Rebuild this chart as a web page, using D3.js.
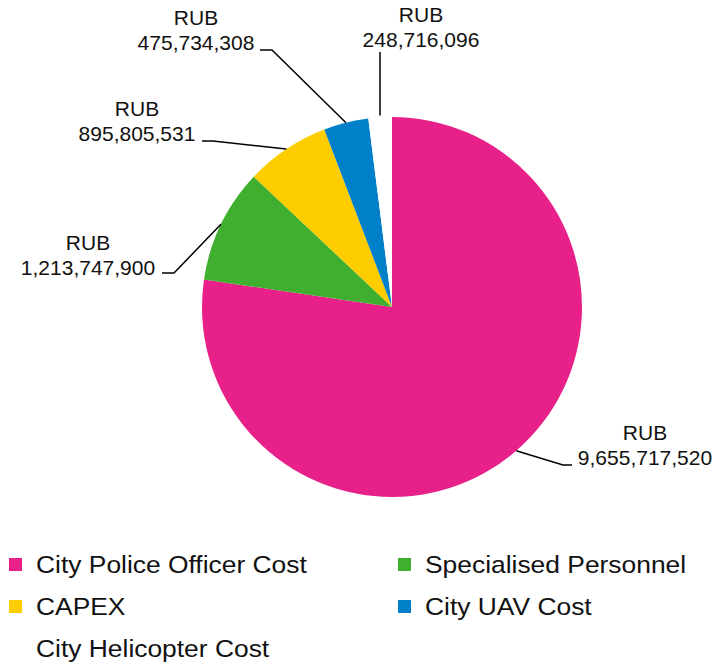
<!DOCTYPE html>
<html>
<head>
<meta charset="utf-8">
<script src="https://cdn.jsdelivr.net/npm/d3@7"></script>
<style>
  body { margin: 0; background: #fff; }
  svg { font-family: "Liberation Sans", Arial, sans-serif; }
</style>
</head>
<body>
<div class="chart"></div>
<script>
// data
var categories = ["City Police Officer Cost", "Specialised Personnel", "CAPEX", "City UAV Cost", "City Helicopter Cost"];
var values = [9655717520, 1213747900, 895805531, 475734308, 248716096];
var colors = ["#e8208a", "#40ae2f", "#fecd00", "#0080c8", "#ffffff"];

var width = 723, height = 662;
var cx = 392, cy = 307, radius = 190;

// where each label sits: elbow of leader line, end of the short horizontal bit, text centre, number baseline
var labelLayout = [
  { elbow: [563, 465], end: [572, 465], tx: 645, ty: 465 },
  { elbow: [174, 273], end: [162, 273], tx: 88,  ty: 275 },
  { elbow: [213, 141], end: [202, 141], tx: 137, ty: 141 },
  { elbow: [272, 50],  end: [260, 50],  tx: 196, ty: 50 },
  { elbow: [380, 52],  end: [380, 52],  tx: 421, ty: 47 }
];

var svg = d3.select(".chart")
  .append("svg")
    .attr("width", width)
    .attr("height", height);

var pie = d3.pie().sort(null).value(function(d) { return d; });
var arcs = pie(values);

var arc = d3.arc().innerRadius(0).outerRadius(radius);

var g = svg.append("g").attr("transform", "translate(" + cx + "," + cy + ")");

g.selectAll("path.slice")
  .data(arcs)
  .enter().append("path")
    .attr("class", "slice")
    .attr("d", arc)
    .style("fill", function(d, i) { return colors[i]; });

// leader lines from the arc edge to the label
var fmt = d3.format(",");
arcs.forEach(function(d, i) {
  var a = (d.startAngle + d.endAngle) / 2;
  var r = i == 4 ? radius + 2 : radius;
  var sx = cx + r * Math.sin(a), sy = cy - r * Math.cos(a);
  var L = labelLayout[i];
  svg.append("polyline")
    .attr("points", [[sx, sy], L.elbow, L.end].map(function(p) { return p.join(","); }).join(" "))
    .style("fill", "none")
    .style("stroke", "#000")
    .style("stroke-width", 1.5);

  var t = svg.append("text")
    .attr("text-anchor", "middle")
    .style("font-size", "21px")
    .style("fill", "#111");
  t.append("tspan").attr("x", L.tx).attr("y", L.ty - 25).text("RUB");
  t.append("tspan").attr("x", L.tx).attr("y", L.ty).text(fmt(values[i]));
});

// legend, two columns
var legend = svg.append("g");
var item = legend.selectAll("g")
  .data(categories)
  .enter().append("g")
    .attr("transform", function(d, i) {
      return "translate(" + (i % 2 ? 398 : 9) + "," + (558 + Math.floor(i / 2) * 42) + ")";
    });

item.append("rect")
  .attr("width", 13).attr("height", 13)
  .style("fill", function(d, i) { return colors[i]; });

// glyphs in the reference are a bit wider than tall, so stretch slightly
item.append("text")
  .attr("transform", "translate(27,15) scale(1.1,1)")
  .style("font-size", "24px")
  .style("fill", "#111")
  .text(function(d) { return d; });
</script>
</body>
</html>
